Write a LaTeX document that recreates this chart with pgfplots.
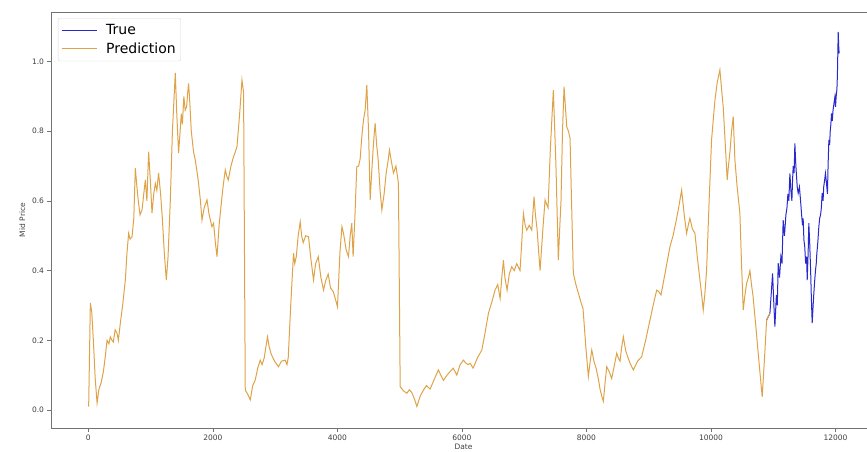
\documentclass[border=0pt]{standalone}
\usepackage{fontspec}
\setmainfont{DejaVu Sans}
\usepackage{pgfplots}
\pgfplotsset{compat=1.18}
\definecolor{truecol}{RGB}{40,40,205}
\definecolor{predcol}{RGB}{222,163,72}
\begin{document}
\begin{tikzpicture}
\begin{axis}[
  name=ax, at={(0,0)}, anchor=south west,
  scale only axis, width=825pt, height=416pt,
  xmin=-600, xmax=12650, ymin=-0.0517, ymax=1.142,
  axis x line*=box, axis y line*=left,
  axis line style={draw=black!55, line width=0.8pt},
  xtick={0,2000,4000,6000,8000,10000,12000},
  ytick={0,0.2,0.4,0.6,0.8,1.0},
  scaled x ticks=false,
  xtick pos=bottom, ytick pos=left,
  tick align=outside, major tick length=3.5pt,
  tick style={draw=black!55, line width=0.6pt},
  /pgf/number format/assume math mode=true,
  xticklabel style={/pgf/number format/set thousands separator={}},
  yticklabel style={/pgf/number format/fixed, /pgf/number format/fixed zerofill, /pgf/number format/precision=1},
  ticklabel style={font=\fontsize{7.5}{9}\selectfont, text=black!75},
  xlabel={Date}, ylabel={Mid Price},
  label style={font=\fontsize{7.5}{9}\selectfont, text=black!75},
  xlabel style={yshift=4pt},
  legend cell align=left,
  legend style={at={(0,1)}, anchor=north west, xshift=7pt, yshift=-6pt,
    draw=black!15, rounded corners=2pt, fill=white, fill opacity=0.8, text opacity=1,
    font=\fontsize{14}{16}\selectfont, inner xsep=3pt, inner ysep=4pt, row sep=3pt,
    /tikz/every odd column/.append style={column sep=7pt}},
  legend image code/.code={\draw[#1] (0pt,0pt) -- (35pt,0pt);},
]
\addplot[truecol, line width=1pt] table {
x y
10893 0.258
10946 0.277
10989 0.392
11010 0.30
11026 0.239
11050 0.33
11065 0.30
11079 0.421
11100 0.38
11122 0.44
11140 0.42
11159 0.545
11170 0.52
11180 0.50
11203 0.56
11220 0.58
11235 0.62
11250 0.60
11267 0.679
11283 0.63
11299 0.60
11310 0.66
11320 0.70
11335 0.68
11347 0.765
11360 0.71
11370 0.68
11385 0.64
11400 0.622
11420 0.64
11443 0.59
11455 0.56
11470 0.53
11480 0.55
11492 0.488
11505 0.47
11520 0.42
11535 0.44
11545 0.373
11560 0.45
11571 0.536
11585 0.48
11600 0.40
11612 0.32
11625 0.249
11640 0.30
11650 0.33
11665 0.37
11678 0.40
11690 0.42
11700 0.45
11715 0.48
11732 0.526
11745 0.55
11760 0.56
11772 0.58
11785 0.622
11800 0.60
11810 0.64
11825 0.66
11838 0.679
11855 0.65
11870 0.62
11880 0.70
11893 0.775
11905 0.76
11915 0.80
11925 0.82
11936 0.851
11948 0.83
11960 0.86
11975 0.88
11990 0.899
12000 0.87
12010 0.90
12022 0.92
12030 0.96
12043 1.085
12052 1.04
12059 1.023
};
\addlegendentry{True}
\addplot[predcol, line width=1pt] table {
x y
5 0.01
32 0.307
55 0.28
80 0.20
110 0.09
140 0.02
170 0.06
204 0.077
241 0.11
270 0.15
300 0.20
330 0.19
353 0.21
380 0.20
401 0.195
430 0.23
461 0.22
482 0.20
514 0.25
550 0.30
594 0.373
620 0.45
647 0.507
670 0.49
701 0.497
730 0.55
754 0.694
780 0.64
802 0.60
830 0.56
862 0.574
890 0.62
915 0.66
940 0.60
968 0.741
995 0.66
1022 0.565
1050 0.62
1075 0.65
1100 0.63
1128 0.68
1160 0.62
1188 0.55
1220 0.45
1252 0.373
1280 0.44
1316 0.60
1350 0.80
1396 0.967
1420 0.85
1449 0.737
1470 0.79
1493 0.85
1510 0.82
1534 0.90
1555 0.86
1578 0.87
1595 0.91
1610 0.937
1630 0.88
1653 0.80
1690 0.74
1717 0.717
1740 0.69
1770 0.651
1800 0.60
1825 0.545
1860 0.58
1905 0.603
1940 0.56
1985 0.526
2011 0.536
2040 0.48
2066 0.44
2100 0.53
2146 0.612
2170 0.65
2199 0.689
2225 0.67
2247 0.66
2290 0.70
2332 0.727
2360 0.74
2387 0.756
2430 0.85
2467 0.947
2480 0.93
2493 0.909
2520 0.057
2560 0.045
2600 0.029
2640 0.07
2680 0.086
2720 0.12
2761 0.143
2790 0.13
2825 0.15
2850 0.18
2878 0.21
2905 0.18
2937 0.16
2990 0.14
3054 0.124
3100 0.14
3162 0.143
3190 0.13
3210 0.15
3250 0.30
3295 0.45
3315 0.42
3339 0.44
3370 0.50
3403 0.54
3425 0.50
3451 0.48
3490 0.50
3536 0.497
3570 0.44
3616 0.373
3650 0.42
3692 0.44
3735 0.38
3777 0.344
3810 0.37
3852 0.39
3890 0.35
3932 0.34
3965 0.32
4001 0.296
4040 0.45
4072 0.526
4098 0.507
4140 0.46
4178 0.44
4205 0.50
4231 0.536
4252 0.44
4280 0.55
4311 0.698
4340 0.70
4365 0.72
4390 0.78
4418 0.832
4445 0.86
4472 0.933
4500 0.80
4526 0.603
4550 0.68
4574 0.75
4590 0.79
4606 0.823
4630 0.76
4654 0.72
4685 0.63
4714 0.574
4750 0.62
4783 0.68
4810 0.71
4836 0.746
4870 0.71
4900 0.68
4940 0.70
4980 0.65
5008 0.067
5060 0.055
5115 0.048
5155 0.058
5195 0.05
5240 0.03
5276 0.01
5330 0.04
5381 0.057
5430 0.07
5489 0.06
5560 0.09
5622 0.115
5660 0.10
5703 0.085
5760 0.10
5810 0.11
5860 0.12
5918 0.10
5970 0.13
6024 0.143
6060 0.135
6099 0.13
6131 0.134
6179 0.12
6250 0.15
6319 0.172
6370 0.22
6425 0.277
6480 0.31
6532 0.344
6575 0.36
6613 0.32
6640 0.38
6666 0.43
6690 0.38
6725 0.344
6760 0.39
6800 0.411
6840 0.40
6880 0.42
6905 0.41
6933 0.40
6960 0.48
6987 0.564
7015 0.53
7041 0.516
7080 0.53
7121 0.516
7158 0.612
7180 0.56
7206 0.52
7230 0.46
7255 0.40
7300 0.52
7335 0.603
7360 0.59
7383 0.58
7420 0.75
7468 0.918
7510 0.70
7548 0.43
7570 0.52
7591 0.60
7615 0.80
7640 0.928
7665 0.86
7683 0.813
7710 0.80
7736 0.78
7760 0.60
7789 0.392
7830 0.36
7870 0.335
7910 0.31
7945 0.29
7990 0.18
8030 0.096
8060 0.14
8085 0.172
8120 0.14
8154 0.12
8190 0.09
8218 0.06
8245 0.04
8271 0.025
8300 0.08
8325 0.124
8365 0.11
8405 0.09
8450 0.13
8486 0.163
8510 0.15
8539 0.14
8565 0.18
8592 0.21
8630 0.17
8667 0.15
8710 0.13
8753 0.115
8820 0.14
8887 0.153
8950 0.20
9020 0.258
9070 0.30
9128 0.344
9160 0.34
9197 0.33
9270 0.40
9341 0.469
9390 0.50
9437 0.54
9480 0.58
9528 0.631
9570 0.56
9608 0.507
9635 0.53
9661 0.55
9700 0.52
9742 0.507
9780 0.44
9822 0.373
9850 0.33
9875 0.287
9900 0.33
9929 0.40
9970 0.60
10009 0.775
10035 0.83
10063 0.889
10100 0.94
10143 0.976
10170 0.92
10196 0.87
10230 0.76
10260 0.66
10280 0.70
10304 0.74
10330 0.80
10357 0.842
10384 0.717
10420 0.64
10464 0.564
10490 0.42
10518 0.287
10545 0.33
10571 0.363
10600 0.38
10625 0.40
10650 0.36
10673 0.33
10720 0.24
10758 0.163
10790 0.10
10822 0.038
10860 0.15
10893 0.258
10946 0.277
};
\addlegendentry{Prediction}
\end{axis}
\pgfresetboundingbox
\path[use as bounding box] (-51pt,-23pt) rectangle (816pt,428pt);
\end{tikzpicture}
\end{document}
